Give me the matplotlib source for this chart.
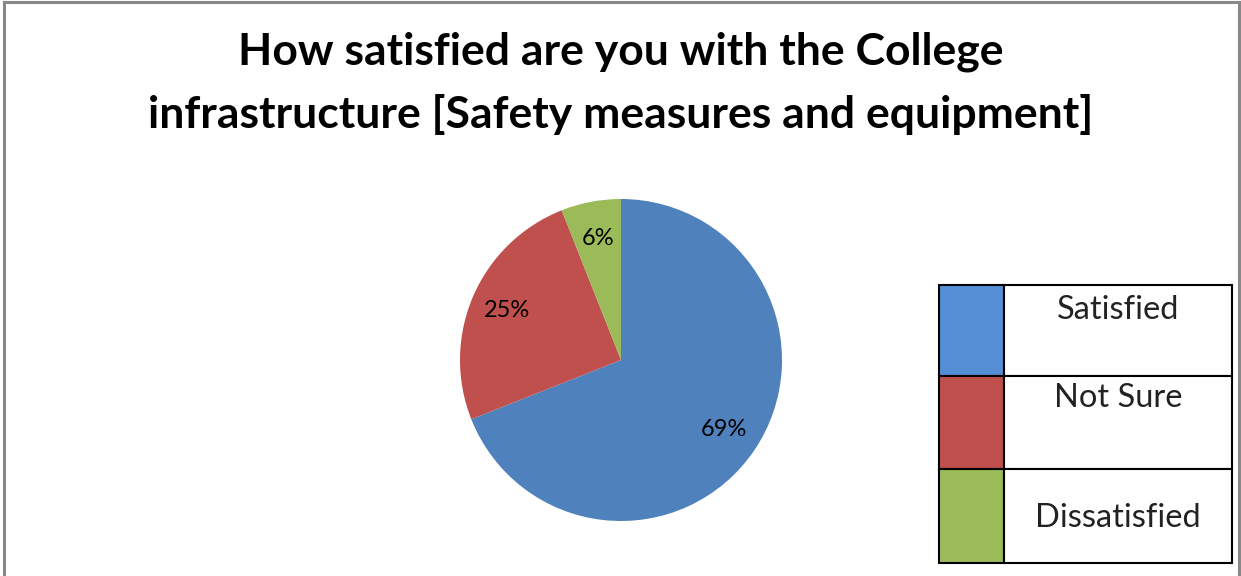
import matplotlib.pyplot as plt
from matplotlib.patches import Rectangle

plt.rcParams['font.family'] = ['Lato', 'DejaVu Sans']

title_lines = ['How satisfied are you with the College',
               'infrastructure [Safety measures and equipment]']
labels = ['Satisfied', 'Not Sure', 'Dissatisfied']
values = [69, 25, 6]
colors = ['#4F81BD', '#C0504D', '#9BBB59']
legend_colors = ['#558ED5', '#C0504D', '#9BBB59']

fig = plt.figure(figsize=(12.41, 5.76), dpi=100)

# pixel -> figure fraction helpers
W, H = 1241, 576
def fx(px):
    return px / W
def fy(py):
    return 1 - py / H

# outer frame (no bottom edge, like the cropped screenshot)
frame_col = '#888888'
fig.add_artist(plt.Line2D([fx(4), fx(4)], [0, fy(2)], color=frame_col, lw=2.2))
fig.add_artist(plt.Line2D([fx(4), fx(1239)], [fy(2), fy(2)], color=frame_col, lw=2.2))
fig.add_artist(plt.Line2D([fx(1239), fx(1239)], [fy(2), 0], color=frame_col, lw=2.2))

for line, base in zip(title_lines, [65, 128]):
    fig.text(fx(621), fy(base), line, ha='center', va='baseline', fontsize=32,
             fontweight='bold')

# pie
cx, cy, r = 621, 360, 161
ax = fig.add_axes([fx(cx - r), fy(cy + r), (2 * r) / W, (2 * r) / H])
ax.pie(values, colors=colors, startangle=90, counterclock=False,
       autopct='%d%%', pctdistance=0.77,
       textprops={'fontsize': 17, 'color': 'black'},
       wedgeprops={'linewidth': 0})
ax.set_aspect('auto')
ax.set_xlim(-1, 1)
ax.set_ylim(-1, 1)
ax.axis('off')

# legend drawn as a table-like box
lx0, lx1, lxs = 939, 1232, 1004
rows = [(285, 376), (376, 469), (469, 563)]
text_y = [310, 398, 518]
for (y0, y1), lab, c, ty in zip(rows, labels, legend_colors, text_y):
    fig.add_artist(Rectangle((fx(lx0), fy(y1)), fx(lxs) - fx(lx0), fy(y0) - fy(y1),
                             facecolor=c, edgecolor='black', lw=1.5))
    fig.add_artist(Rectangle((fx(lxs), fy(y1)), fx(lx1) - fx(lxs), fy(y0) - fy(y1),
                             facecolor='white', edgecolor='black', lw=1.5))
    fig.text(fx(1118), fy(ty), lab, ha='center', va='center', fontsize=23.5,
             color='#222222')

fig.savefig('out.png', dpi=100)
